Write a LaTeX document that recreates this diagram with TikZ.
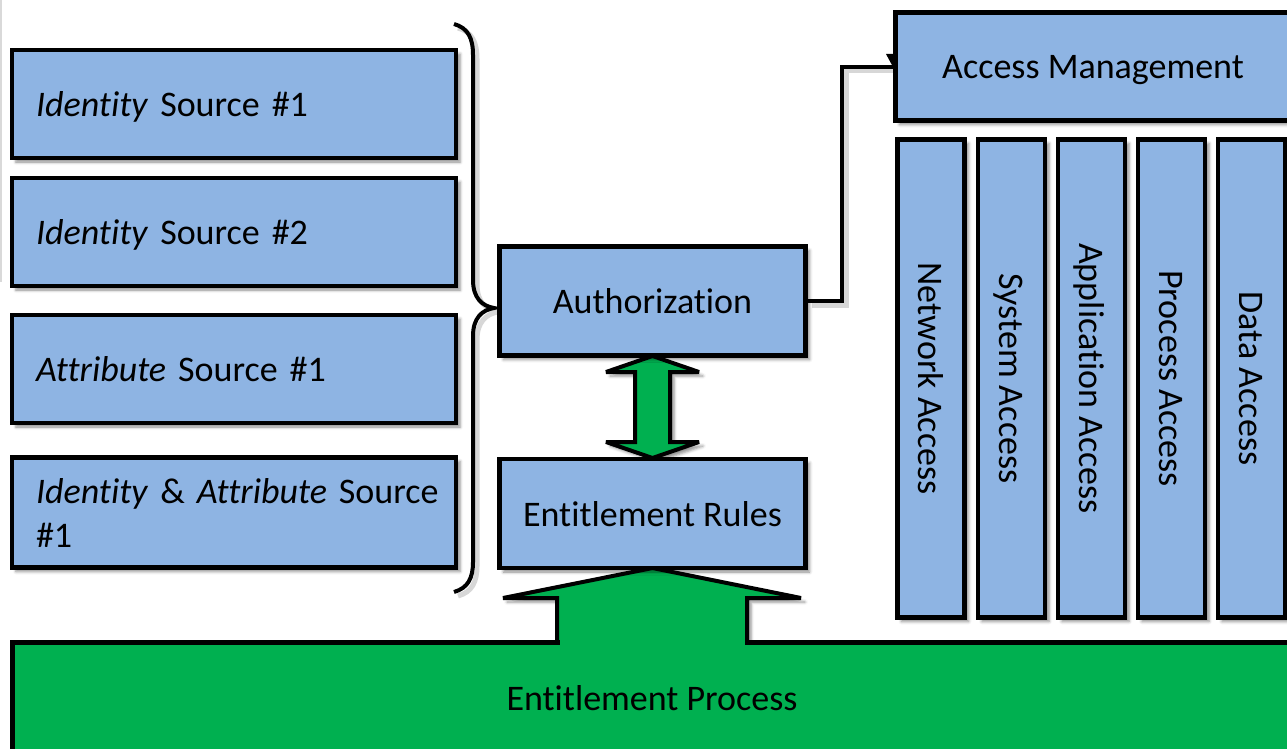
\documentclass[tikz,border=0pt]{standalone}
\usepackage{fontspec}
\setmainfont{Carlito}[Ligatures=NoCommon]
\usetikzlibrary{shadows.blur}
\definecolor{boxblue}{HTML}{8EB4E3}
\definecolor{procgreen}{HTML}{00B050}

\begin{document}
\begin{tikzpicture}[x=1pt,y=-1pt,
  softshadow/.style={blur shadow={shadow xshift=4pt,shadow yshift=-4pt,shadow blur radius=3pt,shadow opacity=45}},
  labelfont/.style={font=\fontsize{36}{44}\selectfont},
  oneline/.style={text height=30pt,text depth=5pt},
  bluebox/.style={draw=black,line width=4.5pt,fill=boxblue,softshadow,inner sep=0pt,labelfont},
  srcbox/.style={bluebox,minimum width=444pt,minimum height=108pt,text width=396pt,align=left,inner xsep=24pt},
  midbox/.style={bluebox,oneline,minimum width=306pt,minimum height=109pt},
  colbox/.style={bluebox,minimum width=67pt,minimum height=478pt},
  coltext/.style={rotate=-90,labelfont,oneline,inner sep=0pt},
  procbox/.style={draw=black,line width=4.5pt,fill=procgreen,inner sep=0pt,labelfont,oneline},
  arrowshape/.style={draw=black,line width=4pt,fill=procgreen,line join=miter,miter limit=2,softshadow},
  linkline/.style={line width=3.5pt},
  linkshadow/.style={line width=5pt,black!35,opacity=.45}
]
\useasboundingbox (0,0) rectangle (1287,749);
\begin{scope}
\clip (0,0) rectangle (1287,749);

% faint rule at the left margin
\draw[black!15,line width=1.5pt] (1,0) -- (1,282);

% broad arrow rising from the process bar
\draw[arrowshape] (652.5,568) -- (801,598) -- (747,598) -- (747,642.5)
  -- (557,642.5) -- (557,598) -- (503,598) -- cycle;

% process bar, opened under the arrow shaft
\node[procbox,minimum width=1279pt,minimum height=111pt] (proc) at (652,698) {Entitlement Process};
\fill[procgreen] (559.5,639) rectangle (744.5,646.5);

% two-way arrow between authorization and rules
\draw[arrowshape] (652.5,356) -- (699,372) -- (670,372) -- (670,442) -- (699,442)
  -- (652.5,458) -- (606,442) -- (635,442) -- (635,372) -- (606,372) -- cycle;

% sources
\node[srcbox,oneline] (src1) at (234,104) {\textit{Identity} Source \#1};
\node[srcbox,oneline] (src2) at (234,232) {\textit{Identity} Source \#2};
\node[srcbox,oneline] (src3) at (234,369) {\textit{Attribute} Source \#1};
\node[srcbox,minimum height=110pt] (src4) at (234,512.5)
  {\mbox{\textit{Identity} \& \textit{Attribute} Source}\\\#1};

% brace grouping the sources
\draw[linkshadow,shift={(4,4)}] (454,24) .. controls (468,28) and (473,38) .. (473,55)
  -- (473,280) .. controls (473,298) and (482,306) .. (494,308)
  .. controls (482,310) and (473,318) .. (473,336)
  -- (473,562) .. controls (473,578) and (468,588) .. (454,592);
\draw[line width=4pt] (454,24) .. controls (468,28) and (473,38) .. (473,55)
  -- (473,280) .. controls (473,298) and (482,306) .. (494,308)
  .. controls (482,310) and (473,318) .. (473,336)
  -- (473,562) .. controls (473,578) and (468,588) .. (454,592);

% central blocks
\node[midbox] (auth) at (652.5,301) {Authorization};
\node[midbox] (rules) at (652.5,513.5) {Entitlement Rules};

% access management and its columns
\fill (886,54) -- (900,54) -- (893,67) -- cycle;
\node[bluebox,oneline,minimum width=395pt,minimum height=108pt] (am) at (1093,66.5) {Access Management};
\foreach \i/\x/\t in {1/931/Network Access,2/1011.5/System Access,3/1091.5/Application Access,
                      4/1171.5/Process Access,5/1251.5/Data Access}{
  \node[colbox] (col\i) at (\x,378.5) {};
  \node[coltext] (lbl\i) at (col\i.center) {\t};
}

% connector from authorization to access management
\draw[linkshadow] ([shift={(4,4)}]auth.east) -- (846,305) -- (846,71) -- (893,71);
\draw[linkline] (auth.east) -- (842,301) -- (842,67) -- (am.west |- 0,67);
\end{scope}
\end{tikzpicture}
\end{document}
